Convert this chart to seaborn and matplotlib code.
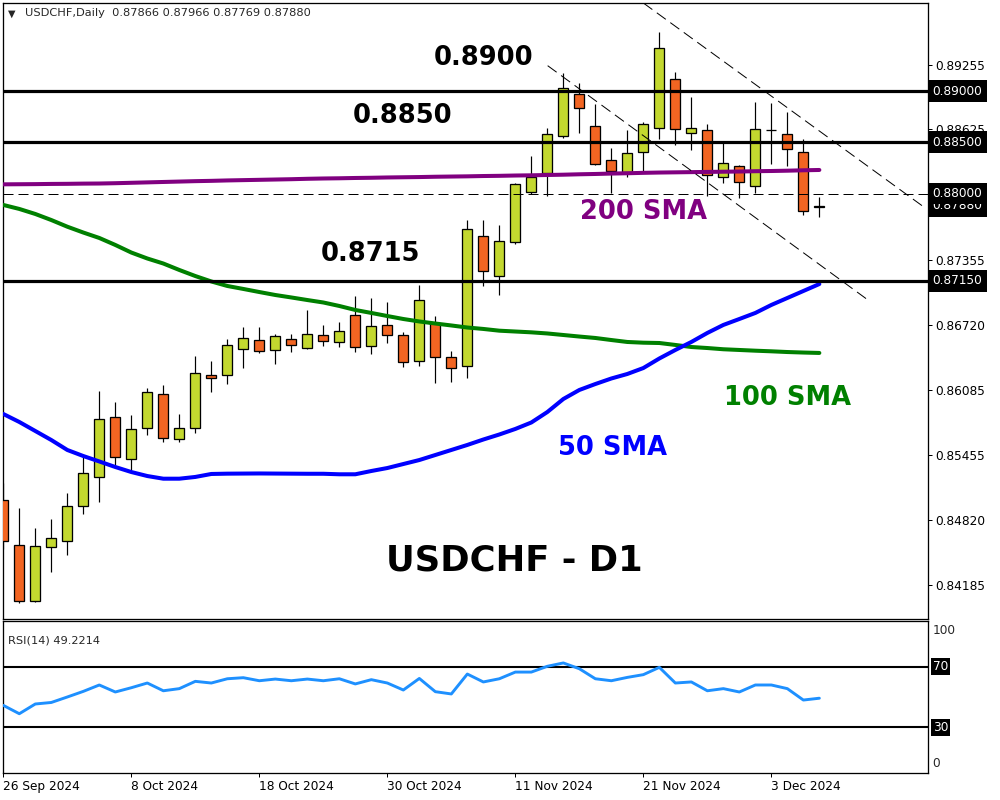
import matplotlib
matplotlib.use('Agg')
import matplotlib.pyplot as plt
import matplotlib.transforms as mtransforms
import numpy as np
import pandas as pd
import seaborn as sns

sns.set_style('white')
plt.rcParams['font.family'] = ['DejaVu Sans']
plt.rcParams['lines.scale_dashes'] = False

# daily USDCHF candles, 26 Sep 2024 -> 10 Dec 2024
opens = [0.85009, 0.84571, 0.84025, 0.84551, 0.84610, 0.84951, 0.85234, 0.85819, 0.85409, 0.85711,
         0.86043, 0.85604, 0.85711, 0.86228, 0.86228, 0.86482, 0.86569, 0.86472, 0.86579, 0.86491,
         0.86618, 0.86550, 0.86813, 0.86511, 0.86716, 0.86618, 0.86365, 0.86735, 0.86404, 0.86316,
         0.87583, 0.87193, 0.87525, 0.88012, 0.88198, 0.88558, 0.88968, 0.88656, 0.88324, 0.88213,
         0.88402, 0.88636, 0.89114, 0.88588, 0.88617, 0.88159, 0.88272, 0.88071, 0.88617, 0.88578,
         0.88402, 0.87866]
highs = [0.85178, 0.84931, 0.84736, 0.84824, 0.85078, 0.85429, 0.86075, 0.85965, 0.85838, 0.86101,
         0.86131, 0.85848, 0.86413, 0.86365, 0.86579, 0.86696, 0.86696, 0.86628, 0.86628, 0.86862,
         0.86716, 0.86745, 0.86998, 0.86982, 0.86940, 0.86647, 0.87106, 0.86803, 0.86462, 0.87739,
         0.87739, 0.87691, 0.88106, 0.88369, 0.88636, 0.89178, 0.89081, 0.88870, 0.88441, 0.88617,
         0.88695, 0.89572, 0.89182, 0.88939, 0.88675, 0.88490, 0.88281, 0.88890, 0.88880, 0.88792,
         0.88529, 0.87966]
lows = [0.84534, 0.84005, 0.84020, 0.84313, 0.84476, 0.84879, 0.84996, 0.85351, 0.85298, 0.85649,
        0.85581, 0.85581, 0.85663, 0.86062, 0.86140, 0.86296, 0.86443, 0.86335, 0.86452, 0.86485,
        0.86511, 0.86501, 0.86452, 0.86433, 0.86540, 0.86306, 0.86316, 0.86150, 0.86160, 0.86199,
        0.87096, 0.87008, 0.87505, 0.87993, 0.87973, 0.88539, 0.88588, 0.88276, 0.88003, 0.88164,
        0.88213, 0.88529, 0.88473, 0.88425, 0.87973, 0.88100, 0.87954, 0.88003, 0.88285, 0.88266,
        0.87788, 0.87769]
closes = [0.84610, 0.84025, 0.84561, 0.84639, 0.84951, 0.85273, 0.85799, 0.85429, 0.85702, 0.86062,
          0.85614, 0.85711, 0.86248, 0.86199, 0.86521, 0.86589, 0.86462, 0.86608, 0.86521, 0.86628,
          0.86560, 0.86657, 0.86501, 0.86706, 0.86618, 0.86355, 0.86959, 0.86404, 0.86296, 0.87652,
          0.87242, 0.87535, 0.88093, 0.88159, 0.88578, 0.89026, 0.88831, 0.88285, 0.88217, 0.88393,
          0.88675, 0.89416, 0.88627, 0.88636, 0.88178, 0.88295, 0.88110, 0.88627, 0.88617, 0.88432,
          0.87827, 0.87880]

sma200 = [0.88090, 0.88091, 0.88092, 0.88094, 0.88095, 0.88097, 0.88098, 0.88101, 0.88105, 0.88109,
          0.88113, 0.88117, 0.88121, 0.88124, 0.88128, 0.88131, 0.88134, 0.88137, 0.88140, 0.88144,
          0.88147, 0.88149, 0.88152, 0.88154, 0.88157, 0.88159, 0.88161, 0.88164, 0.88166, 0.88168,
          0.88171, 0.88173, 0.88176, 0.88178, 0.88181, 0.88184, 0.88188, 0.88191, 0.88195, 0.88198,
          0.88202, 0.88205, 0.88207, 0.88209, 0.88211, 0.88213, 0.88215, 0.88218, 0.88220, 0.88223,
          0.88227, 0.88230]
sma100 = [0.87889, 0.87850, 0.87801, 0.87742, 0.87677, 0.87620, 0.87567, 0.87499, 0.87425, 0.87367,
          0.87318, 0.87255, 0.87196, 0.87143, 0.87099, 0.87070, 0.87040, 0.87011, 0.86987, 0.86962,
          0.86938, 0.86904, 0.86865, 0.86836, 0.86806, 0.86777, 0.86753, 0.86733, 0.86714, 0.86694,
          0.86680, 0.86663, 0.86655, 0.86647, 0.86636, 0.86621, 0.86606, 0.86592, 0.86572, 0.86553,
          0.86546, 0.86543, 0.86524, 0.86504, 0.86494, 0.86482, 0.86475, 0.86468, 0.86462, 0.86455,
          0.86450, 0.86446]
sma50 = [0.85851, 0.85773, 0.85685, 0.85597, 0.85500, 0.85441, 0.85388, 0.85334, 0.85285, 0.85246,
         0.85220, 0.85220, 0.85237, 0.85266, 0.85269, 0.85270, 0.85271, 0.85270, 0.85269, 0.85268,
         0.85268, 0.85263, 0.85263, 0.85295, 0.85324, 0.85363, 0.85402, 0.85451, 0.85500, 0.85549,
         0.85602, 0.85651, 0.85705, 0.85768, 0.85870, 0.85997, 0.86085, 0.86143, 0.86197, 0.86241,
         0.86299, 0.86392, 0.86475, 0.86553, 0.86641, 0.86719, 0.86777, 0.86836, 0.86914, 0.86982,
         0.87050, 0.87118]
rsi = [44.5, 39.0, 45.4, 46.4, 50.0, 53.7, 57.9, 53.3, 56.1, 59.2,
       54.1, 55.5, 60.3, 59.2, 62.0, 62.7, 60.7, 61.8, 60.7, 61.8,
       60.7, 62.0, 58.6, 61.4, 59.2, 54.6, 62.2, 53.5, 52.0, 65.1,
       59.9, 62.0, 66.4, 66.4, 70.2, 72.4, 68.6, 62.0, 60.7, 62.9,
       64.7, 69.5, 59.2, 59.9, 54.1, 55.5, 53.3, 57.9, 57.9, 55.5,
       48.0, 49.2]

date_labels = ['26 Sep 2024', '8 Oct 2024', '18 Oct 2024', '30 Oct 2024',
               '11 Nov 2024', '21 Nov 2024', '3 Dec 2024']
price_ticks = [0.89255, 0.88625, 0.87355, 0.86720, 0.86085, 0.85455, 0.84820, 0.84185]
levels = [0.8900, 0.8850, 0.8715]
level_texts = ['0.8900', '0.8850', '0.8715']
boxed_prices = [0.89000, 0.88500, 0.87880, 0.88000, 0.87150]
dashed_level = 0.88
# channel trendlines: (bar, price) end points
upper_trend = ([40.0, 57.62], [0.89858, 0.87859])
lower_trend = ([34.02, 53.98], [0.89247, 0.86969])

df = pd.DataFrame({'date': pd.bdate_range('2024-09-26', periods=len(opens)),
                   'open': opens, 'high': highs, 'low': lows, 'close': closes,
                   'sma200': sma200, 'sma100': sma100, 'sma50': sma50, 'rsi': rsi})
df['i'] = np.arange(len(df))
label_pos = [df.index[df['date'] == pd.Timestamp(d)][0] for d in date_labels]

UP = '#C3D82F'
DOWN = '#F26522'
PX = 0.72  # one pixel in points

fig = plt.figure(figsize=(10, 8), dpi=100)
ax = fig.add_axes([0.0027, 1 - 619 / 800, 0.9253, 616 / 800])
ax2 = fig.add_axes([0.0027, 1 - 773 / 800, 0.9253, 152 / 800])

# candles
up = df['close'] >= df['open']
colors = np.where(up, UP, DOWN)
ax.vlines(df['i'], df['low'], df['high'], color='black', lw=PX * 1.2, zorder=2)
ax.bar(df['i'], df['close'] - df['open'], bottom=df['open'], width=0.625,
       color=colors, edgecolor='black', linewidth=PX * 1.3, zorder=3)

# moving averages
sns.lineplot(data=df, x='i', y='sma200', ax=ax, color='#800080', lw=2.9, zorder=4)
sns.lineplot(data=df, x='i', y='sma100', ax=ax, color='#008000', lw=2.9, zorder=4)
sns.lineplot(data=df, x='i', y='sma50', ax=ax, color='#0000FF', lw=2.9, zorder=4)

for lv in levels:
    ax.axhline(lv, color='black', lw=2.3, zorder=5)
ax.axhline(dashed_level, color='black', lw=PX, dashes=(7.2, 3.6), zorder=5)
for tx, ty in (upper_trend, lower_trend):
    ax.plot(tx, ty, color='black', lw=PX, dashes=(8.0, 4.0), zorder=5)

ax.set_xlim(-0.0375, 57.79)
ax.set_ylim(0.83852, 0.89858)
ax.set_xlabel('')
ax.set_ylabel('')
ax.set_xticks([])
ax.yaxis.tick_right()
ax.set_yticks(price_ticks)
ax.set_yticklabels([f'{p:.5f}' for p in price_ticks])
ax.tick_params(axis='y', direction='out', length=3, width=PX, pad=2,
               labelsize=8.7, colors='black', right=True)

trans = mtransforms.blended_transform_factory(ax.transAxes, ax.transData)
for p in boxed_prices:
    ax.text(1.005, p, f'{p:.5f}', transform=trans, ha='left', va='center',
            fontsize=8.7, color='white', clip_on=False, zorder=10,
            bbox=dict(boxstyle='square,pad=0.36', fc='black', ec='none'))

# annotations
big = dict(fontsize=18.5, fontweight='bold', ha='center', va='center', zorder=6)
ax.text(30.0, 0.89322, level_texts[0], color='black', **big)
ax.text(24.97, 0.88756, level_texts[1], color='black', **big)
ax.text(22.97, 0.87411, level_texts[2], color='black', **big)
ax.text(40.03, 0.87820, '200 SMA', color='#800080', **big)
ax.text(49.03, 0.86007, '100 SMA', color='#008000', **big)
ax.text(38.06, 0.85519, '50 SMA', color='#0000FF', **big)
ax.text(31.94, 0.84427, 'USDCHF - D1', color='black', fontsize=25.5,
        fontweight='bold', ha='center', va='center', zorder=6)

ax.text(0.0055, 0.983, '\u25BC', transform=ax.transAxes, fontsize=7, va='center', ha='left')
ax.text(0.024, 0.983, 'USDCHF,Daily  0.87866 0.87966 0.87769 0.87880',
        transform=ax.transAxes, fontsize=8.2, va='center', ha='left')

for a in (ax, ax2):
    for s in a.spines.values():
        s.set_color('black')
        s.set_linewidth(PX * 1.3)

# RSI panel
sns.lineplot(data=df, x='i', y='rsi', ax=ax2, color='#1E90FF', lw=2.1, zorder=3)
ax2.axhline(70, color='black', lw=1.5, zorder=2)
ax2.axhline(30, color='black', lw=1.5, zorder=2)
ax2.set_xlim(-0.0375, 57.79)
ax2.set_ylim(0, 100)
ax2.set_xlabel('')
ax2.set_ylabel('')
ax2.set_yticks([])
ax2.set_xticks(label_pos)
ax2.set_xticklabels(date_labels, ha='left')
ax2.tick_params(axis='x', direction='out', length=3, width=PX, pad=2,
                labelsize=8.7, colors='black', bottom=True)
trans2 = mtransforms.blended_transform_factory(ax2.transAxes, ax2.transData)
ax2.text(1.005, 94, '100', transform=trans2, ha='left', va='center', fontsize=8.7, clip_on=False)
ax2.text(1.005, 6, '0', transform=trans2, ha='left', va='center', fontsize=8.7, clip_on=False)
for v in (70, 30):
    ax2.text(1.005, v, str(v), transform=trans2, ha='left', va='center', fontsize=8.7,
             color='white', clip_on=False,
             bbox=dict(boxstyle='square,pad=0.15', fc='black', ec='none'))
ax2.text(0.0055, 0.87, 'RSI(14) 49.2214', transform=ax2.transAxes, fontsize=8.2,
         va='center', ha='left')

fig.savefig('out.png', dpi=100)
